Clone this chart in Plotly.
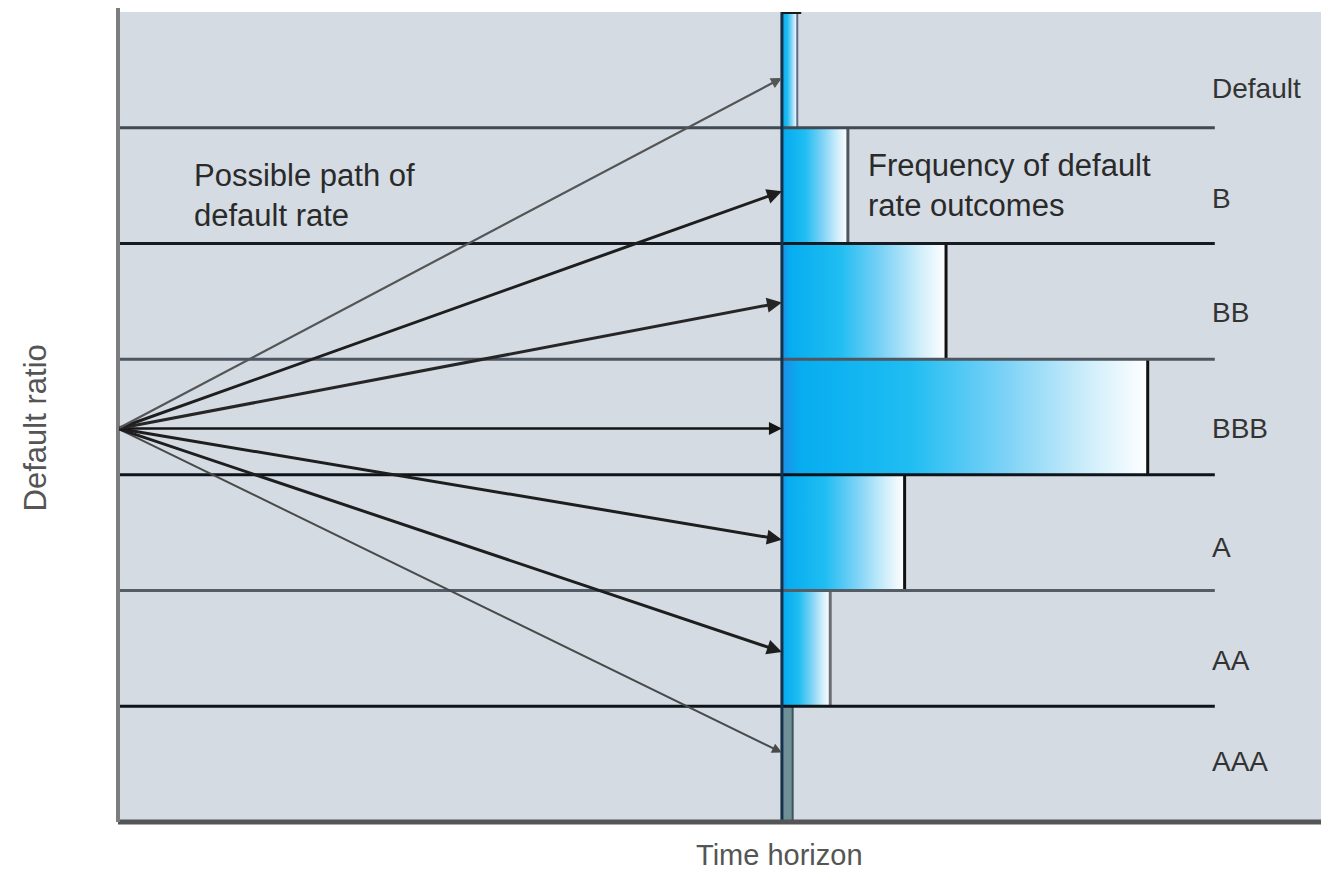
import plotly.graph_objects as go

# ---------------- data ----------------
RATINGS = ["AAA", "AA", "A", "BBB", "BB", "B", "Default"]          # bottom -> top
FREQ_PCT = [1.4, 6.3, 16.0, 47.7, 21.4, 8.6, 2.0]                   # frequency of outcomes (%)
PATH_END = [0.10, 0.97, 1.94, 2.90, 3.99, 4.95, 5.93]               # end level of each path
PATH_START_X = 0.0
PATH_START_Y = 2.90
HORIZON = 1.0

TEXT_PATH = "Possible path of<br>default rate"
TEXT_FREQ = "Frequency of default<br>rate outcomes"
TITLE_Y = "Default ratio"
TITLE_X = "Time horizon"

# ---------------- style ----------------
FONT = "Liberation Sans, Arial, sans-serif"
BG = "#d4dbe3"
X_MAX = 1.824
FREQ_SCALE = 0.01155
LINE_END_X = 1.652
LABEL_X = 1.645
LABEL_DY = [0.02, -0.1, -0.13, -0.1, -0.1, -0.11, -0.16]
ROW_LINE_COLORS = ["#0e141a", "#545c66", "#0e141a", "#4e5660", "#151b21", "#414a54"]  # y=0.5 .. 5.5
EDGE_COLORS = ["#3b555b", "#6a6f75", "#111111", "#111111", "#111111", "#50585f", "#5d6a8a"]
ARROW_COLORS = ["#4a4a4a", "#1e1e1e", "#1e1e1e", "#151515", "#262626", "#1e1e1e", "#555555"]
ARROW_WIDTHS = [2.0, 3.0, 3.0, 2.6, 3.0, 3.0, 2.2]
GRADIENT = [[0.0, "#1c8fe8"], [0.05, "#07adf0"], [0.35, "#1fbdf2"],
            [0.6, "#79d1f6"], [0.85, "#d3effb"], [1.0, "#ffffff"]]

fig = go.Figure()

# histogram bars with horizontal gradient
for i, r in enumerate(RATINGS):
    x0 = HORIZON
    x1 = HORIZON + FREQ_PCT[i] * FREQ_SCALE
    y0, y1 = i - 0.5, i + 0.5
    kw = dict(x=[x0, x1, x1, x0, x0], y=[y0, y0, y1, y1, y0], fill="toself",
              mode="lines", line=dict(width=0), hoverinfo="skip", showlegend=False)
    if r == "AAA":
        kw["fillcolor"] = "#6f9096"
    else:
        kw["fillgradient"] = dict(type="horizontal", colorscale=GRADIENT)
    fig.add_trace(go.Scatter(**kw))
    fig.add_shape(type="line", x0=x1, x1=x1, y0=y0, y1=y1,
                  line=dict(color=EDGE_COLORS[i], width=3 if r not in ("AAA", "Default") else 2))

# row boundary lines
for k in range(len(RATINGS) - 1):
    fig.add_shape(type="line", x0=0, x1=LINE_END_X, y0=k + 0.5, y1=k + 0.5,
                  line=dict(color=ROW_LINE_COLORS[k], width=3))

# time horizon line
fig.add_shape(type="line", x0=HORIZON, x1=HORIZON, y0=-0.5, y1=len(RATINGS) - 0.5,
              line=dict(color="#15314a", width=3))
# cap on top of the default bar
fig.add_shape(type="line", x0=HORIZON, x1=HORIZON + FREQ_PCT[-1] * FREQ_SCALE + 0.006,
              y0=len(RATINGS) - 0.5, y1=len(RATINGS) - 0.5,
              line=dict(color="#1a1a1a", width=4))

# axes lines
fig.add_shape(type="line", xref="paper", yref="paper", x0=0, x1=1, y0=0, y1=0,
              line=dict(color="#555555", width=5))
fig.add_shape(type="line", xref="paper", yref="paper", x0=0, x1=0, y0=0, y1=1.006,
              line=dict(color="#7d7d7d", width=4))

# paths (arrows)
for i, r in enumerate(RATINGS):
    fig.add_annotation(x=HORIZON, y=PATH_END[i], ax=PATH_START_X, ay=PATH_START_Y,
                       xref="x", yref="y", axref="x", ayref="y", text="",
                       showarrow=True, arrowhead=2, arrowsize=1.0,
                       arrowwidth=ARROW_WIDTHS[i], arrowcolor=ARROW_COLORS[i])

# rating labels
for i, r in enumerate(RATINGS):
    fig.add_annotation(x=LABEL_X, y=i + LABEL_DY[i], text=r, showarrow=False,
                       xanchor="left", yanchor="middle",
                       font=dict(family=FONT, size=28, color="#333333"))

# text annotations
fig.add_annotation(x=0.111, y=4.91, text=TEXT_PATH, showarrow=False, align="left",
                   xanchor="left", yanchor="middle",
                   font=dict(family=FONT, size=31, color="#2a2a2a"))
fig.add_annotation(x=1.1265, y=5.0, text=TEXT_FREQ, showarrow=False, align="left",
                   xanchor="left", yanchor="middle",
                   font=dict(family=FONT, size=31, color="#2a2a2a"))

# axis titles
fig.add_annotation(xref="paper", yref="paper", x=-0.0685, y=0.486, text=TITLE_Y,
                   textangle=-90, showarrow=False, xanchor="center", yanchor="middle",
                   font=dict(family=FONT, size=31, color="#555555"))
fig.add_annotation(xref="paper", yref="paper", x=0.546, y=-0.041, text=TITLE_X,
                   showarrow=False, xanchor="center", yanchor="middle",
                   font=dict(family=FONT, size=29, color="#555555"))

# page has an 8px body margin, so the figure is offset to land the plot where the reference has it
fig.update_layout(
    width=1321, height=865,
    margin=dict(l=110, r=0, t=4, b=51),
    paper_bgcolor="white", plot_bgcolor=BG,
    showlegend=False,
    xaxis=dict(range=[0, X_MAX], showgrid=False, zeroline=False, showticklabels=False,
               ticks="", showline=False, fixedrange=True),
    yaxis=dict(range=[-0.5, len(RATINGS) - 0.5], showgrid=False, zeroline=False,
               showticklabels=False, ticks="", showline=False, fixedrange=True),
)

fig.write_html("out.html")
